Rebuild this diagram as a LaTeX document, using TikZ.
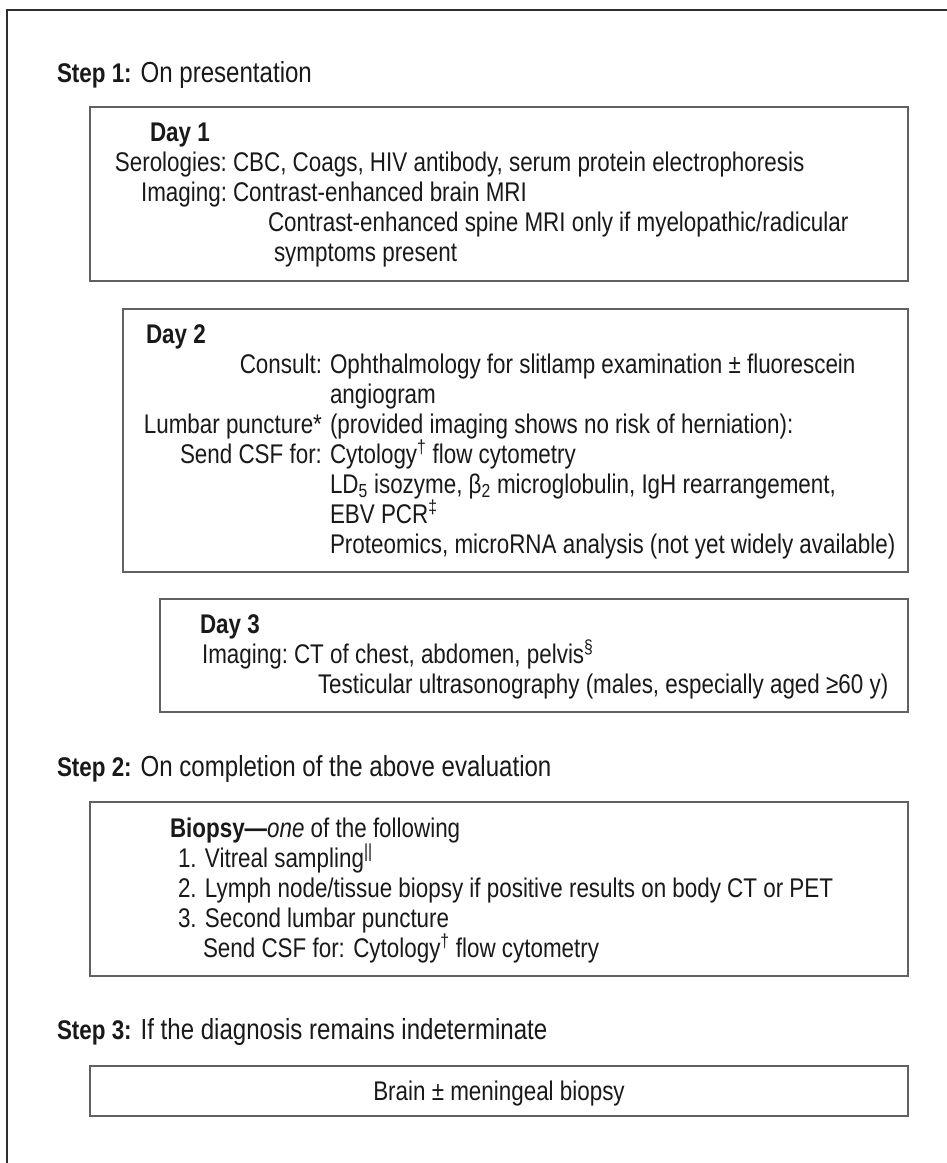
\documentclass[tikz,border=0pt]{standalone}
\usepackage{fontspec}
\setmainfont[FakeStretch=0.83]{Liberation Sans}
\begin{document}
\begin{tikzpicture}[x=1pt,y=-1pt,
  every node/.style={inner sep=0pt,outer sep=0pt,font=\fontsize{27}{30}\selectfont,text=black!90},
  lt/.style={anchor=base west},
  rt/.style={anchor=base east},
  steptitle/.style={anchor=base west,font=\fontsize{29}{30}\selectfont},
  boxline/.style={draw=black!62,line width=1.4pt},
  frameline/.style={draw=black!82,line width=2.3pt}]
\useasboundingbox (0,0) rectangle (947,1163);
\fill[white] (0,0) rectangle (947,1163);
% outer frame (top and left only visible)
\coordinate (fBL) at (7,1170);
\coordinate (fTR) at (955,10);
\draw[frameline] (fBL) |- (fTR);

% Step 1
\node[steptitle] (s1) at (57,82) {{\fontsize{27}{30}\selectfont\textbf{Step 1:}} On presentation};

% Day 1 box
\draw[boxline] (90,107) rectangle (908,281);
\node[lt] (d1h) at (150,141) {\textbf{Day 1}};
\node[rt] (d1a) at (227,171) {Serologies:};
\node[lt] (d1av) at (233,171) {CBC, Coags, HIV antibody, serum protein electrophoresis};
\node[rt] (d1b) at (227,201) {Imaging:};
\node[lt] (d1bv) at (233,201) {Contrast-enhanced brain MRI};
\node[lt] (d1c) at (268,231) {Contrast-enhanced spine MRI only if myelopathic/radicular};
\node[lt] (d1d) at (274,261) {symptoms present};

% Day 2 box
\draw[boxline] (123,309) rectangle (908,572);
\node[lt] (d2h) at (146,343) {\textbf{Day 2}};
\node[rt] (d2a) at (322,373) {Consult:};
\node[lt] (d2av) at (330,373) {Ophthalmology for slitlamp examination ± fluorescein};
\node[lt] (d2aw) at (330,403) {angiogram};
\node[rt] (d2b) at (322,433) {Lumbar puncture*};
\node[lt] (d2bv) at (330,433) {(provided imaging shows no risk of herniation):};
\node[rt] (d2c) at (322,463) {Send CSF for:};
\node[lt] (d2cv) at (330,463) {Cytology\textsuperscript{†} flow cytometry};
\node[lt] (d2d) at (330,493) {LD\textsubscript{5} isozyme, β\textsubscript{2} microglobulin, IgH rearrangement,};
\node[lt] (d2e) at (330,523) {EBV PCR\textsuperscript{‡}};
\node[lt] (d2f) at (330,553) {Proteomics, microRNA analysis (not yet widely available)};

% Day 3 box
\draw[boxline] (160,599) rectangle (908,712);
\node[lt] (d3h) at (200,633) {\textbf{Day 3}};
\node[rt] (d3a) at (288,663) {Imaging:};
\node[lt] (d3av) at (294,663) {CT of chest, abdomen, pelvis\textsuperscript{§}};
\node[lt] (d3b) at (318,693) {Testicular ultrasonography (males, especially aged ≥60 y)};

% Step 2
\node[steptitle] (s2) at (57,776) {{\fontsize{27}{30}\selectfont\textbf{Step 2:}} On completion of the above evaluation};
\draw[boxline] (90,802) rectangle (908,976);
\node[lt] (bh) at (170,837) {\textbf{Biopsy—}\textit{one} of the following};
\node[lt] (b1) at (178,867) {1. Vitreal sampling\textsuperscript{||}};
\node[lt] (b2) at (178,897) {2. Lymph node/tissue biopsy if positive results on body CT or PET};
\node[lt] (b3) at (178,927) {3. Second lumbar puncture};
\node[lt] (b4) at (203,957) {Send CSF for: Cytology\textsuperscript{†} flow cytometry};

% Step 3
\node[steptitle] (s3) at (57,1039) {{\fontsize{27}{30}\selectfont\textbf{Step 3:}} If the diagnosis remains indeterminate};
\draw[boxline] (90,1066) rectangle (908,1116);
\node[anchor=base] (br) at (499,1100) {Brain ± meningeal biopsy};
\end{tikzpicture}
\end{document}
